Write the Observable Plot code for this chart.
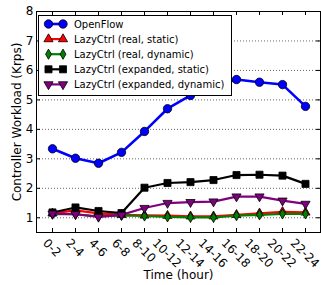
<!DOCTYPE html>
<html>
<head>
<meta charset="utf-8">
<script src="https://cdn.jsdelivr.net/npm/d3@7"></script>
<script src="https://cdn.jsdelivr.net/npm/@observablehq/plot@0.6"></script>
<style>
  html, body { margin: 0; padding: 0; background: #fff; }
  #chart { width: 321px; height: 285px; position: relative; }
</style>
</head>
<body>
<div id="chart"></div>
<script>
// ---- data ----
const categories = ["0-2","2-4","4-6","6-8","8-10","10-12","12-14","14-16","16-18","18-20","20-22","22-24"];
const openflow        = [3.34, 3.02, 2.85, 3.22, 3.93, 4.70, 5.15, 5.45, 5.69, 5.60, 5.52, 4.78];
const realStatic      = [1.15, 1.25, 1.15, 1.10, 1.08, 1.07, 1.05, 1.05, 1.10, 1.15, 1.20, 1.18];
const realDynamic     = [1.12, 1.12, 1.05, 1.08, 1.06, 1.03, 1.01, 1.01, 1.07, 1.10, 1.13, 1.13];
const expandedStatic  = [1.18, 1.35, 1.23, 1.16, 2.02, 2.18, 2.21, 2.28, 2.45, 2.46, 2.43, 2.15];
const expandedDynamic = [1.14, 1.12, 1.03, 1.10, 1.33, 1.50, 1.53, 1.55, 1.72, 1.72, 1.58, 1.47];
const seriesNames = ["OpenFlow", "LazyCtrl (real, static)", "LazyCtrl (real, dynamic)", "LazyCtrl (expanded, static)", "LazyCtrl (expanded, dynamic)"];
const yTicks = [1, 2, 3, 4, 5, 6, 7, 8];
const xTitle = "Time (hour)";
const yTitle = "Controller Workload (Krps)";

// ---- styles ----
const W = 321, H = 285;
const mL = 36, mR = 1, mT = 11, mB = 53;
const plotW = W - mL - mR, plotH = H - mT - mB;
const font = "DejaVu Sans";

const series = [
  {name: seriesNames[0], values: openflow,        color: "#0000ff", symbol: "circle",   rotate: 0,   sw: 2.6, r: 4.2},
  {name: seriesNames[1], values: realStatic,      color: "#ff0000", symbol: "triangle", rotate: 0,   sw: 2.2, r: 3.4},
  {name: seriesNames[2], values: realDynamic,     color: "#008000", symbol: "diamond",  rotate: 0,   sw: 2.2, r: 3.1},
  {name: seriesNames[3], values: expandedStatic,  color: "#000000", symbol: "square",   rotate: 0,   sw: 2.2, r: 4.0},
  {name: seriesNames[4], values: expandedDynamic, color: "#800080", symbol: "triangle", rotate: 180, sw: 2.2, r: 3.4}
];

const marks = [
  Plot.ruleY(yTicks.filter(t => t < 8), {y: d => d, stroke: "#000", strokeOpacity: 0.6, strokeWidth: 1, strokeDasharray: "1,2"})
];
for (const s of series) {
  marks.push(Plot.line(categories, {x: d => d, y: (d, i) => s.values[i], stroke: s.color, strokeWidth: s.sw}));
  marks.push(Plot.dot(categories, {x: d => d, y: (d, i) => s.values[i], symbol: s.symbol, r: s.r, fill: s.color, stroke: "#000", strokeWidth: 0.8, rotate: s.rotate}));
}
marks.push(
  Plot.frame({stroke: "#000", strokeWidth: 1}),
  // inward ticks
  Plot.tickX(categories, {x: d => d, insetTop: plotH - 4, stroke: "#000"}),
  Plot.tickX(categories, {x: d => d, insetBottom: plotH - 4, stroke: "#000"}),
  Plot.tickY(yTicks, {y: d => d, insetRight: plotW - 4, stroke: "#000"}),
  Plot.tickY(yTicks, {y: d => d, insetLeft: plotW - 4, stroke: "#000"}),
  Plot.axisX({tickSize: 0, tickPadding: 6, tickRotate: 45, fontSize: 12, label: null, textAnchor: "middle", lineAnchor: "middle"}),
  Plot.axisY({ticks: yTicks, tickSize: 0, tickPadding: 3, fontSize: 12, label: null, tickFormat: d => String(d)}),
  Plot.text([xTitle], {frameAnchor: "bottom", dy: 43, text: d => d, fontSize: 12, textAnchor: "middle", lineAnchor: "middle", fill: "#000"}),
  Plot.text([yTitle], {frameAnchor: "left", dx: -19.5, rotate: -90, text: d => d, fontSize: 12, textAnchor: "middle", lineAnchor: "middle", fill: "#000"})
);

const chart = Plot.plot({
  width: W, height: H,
  marginLeft: mL, marginRight: mR, marginTop: mT, marginBottom: mB,
  style: {fontFamily: font, color: "#000", background: "#fff", overflow: "visible"},
  x: {type: "point", domain: categories, padding: 0.5, axis: null},
  y: {type: "linear", domain: [0.5, 8], axis: null},
  marks
});
document.getElementById("chart").append(chart);

// center rotated x tick labels under their ticks (matplotlib-style)
const svg = d3.select(chart);
const svgRect = chart.getBoundingClientRect();
const xs = chart.scale("x");
svg.selectAll('g[aria-label="x-axis tick label"] text').each(function() {
  const label = this.textContent;
  const tx = xs.apply(label);
  const bb = this.getBoundingClientRect();
  const cx = (bb.left + bb.right) / 2 - svgRect.left;
  const top = bb.top - svgRect.top;
  const dx = tx - cx;
  const dy = (H - mB + 4) - top;
  const old = this.getAttribute("transform") || "";
  this.setAttribute("transform", `translate(${dx},${dy}) ${old}`);
});

// legend (drawn over the lines, as in the reference)
const lg = svg.append("g").attr("font-family", font).attr("font-size", 10).attr("text-anchor", "start");
lg.append("rect").attr("x", 38.5).attr("y", 15.5).attr("width", 193).attr("height", 80)
  .attr("fill", "#fff").attr("stroke", "#000").attr("stroke-width", 1);
series.forEach((s, i) => {
  const y = 24 + i * 15.1;
  lg.append("line").attr("x1", 48.5).attr("x2", 63).attr("y1", y).attr("y2", y)
    .attr("stroke", s.color).attr("stroke-width", s.sw);
  const sym = d3.symbol().type({circle: d3.symbolCircle, triangle: d3.symbolTriangle, diamond: d3.symbolDiamond, square: d3.symbolSquare}[s.symbol]).size(Math.PI * s.r * s.r);
  for (const x of [48.5, 63]) {
    lg.append("path").attr("d", sym()).attr("transform", `translate(${x},${y}) rotate(${s.rotate})`)
      .attr("fill", s.color).attr("stroke", "#000").attr("stroke-width", 0.8);
  }
  lg.append("text").attr("x", 74).attr("y", y).attr("dy", "0.35em").attr("fill", "#000").text(s.name);
});
</script>
</body>
</html>
